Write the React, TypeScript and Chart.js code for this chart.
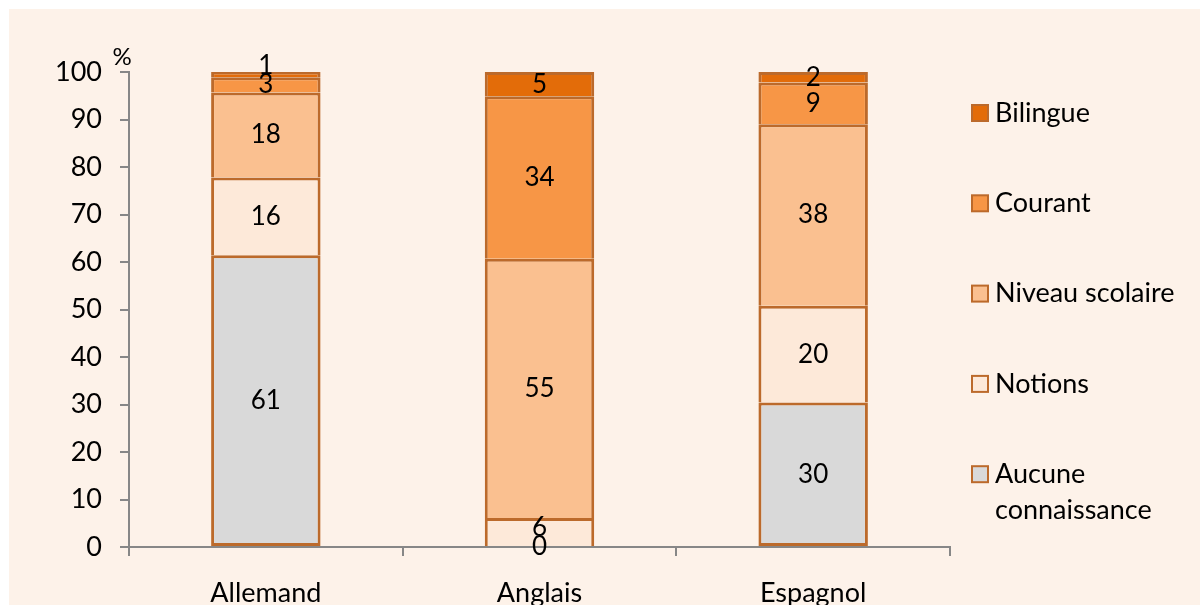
import React, { useEffect, useRef } from "react";
import { Chart, registerables } from "chart.js";

Chart.register(...registerables);

const categories = ["Allemand", "Anglais", "Espagnol"];
const seriesNames = ["Aucune connaissance", "Notions", "Niveau scolaire", "Courant", "Bilingue"];
const aucune = [61.4, 0, 30.4];
const notions = [16.4, 6.1, 20.4];
const niveau = [17.9, 54.6, 38.2];
const courant = [3.2, 34.2, 8.8];
const bilingue = [1.1, 5.1, 2.2];
const yTickValues = [0, 10, 20, 30, 40, 50, 60, 70, 80, 90, 100];
const legendLines = [["Aucune", "connaissance"], ["Notions"], ["Niveau scolaire"], ["Courant"], ["Bilingue"]];

const fills = ["#D9D9D9", "#FDE9D9", "#FAC090", "#F79646", "#E36C09"];
const BORDER = "#BC6A2B";
const FONT = "Lato";
const BG = "#FDF2E9";

const overlayPlugin = {
  id: "overlay",
  afterDatasetsDraw(chart: any) {
    const ctx = chart.ctx;
    const area = chart.chartArea;
    ctx.save();
    // data labels (stacked, bottom to top, avoiding overlaps)
    ctx.fillStyle = "#000";
    ctx.font = `26px ${FONT}`;
    ctx.textAlign = "center";
    ctx.textBaseline = "middle";
    const n = chart.data.labels.length;
    for (let i = 0; i < n; i++) {
      let prevY: number | null = null;
      chart.data.datasets.forEach((ds: any, di: number) => {
        const bar: any = chart.getDatasetMeta(di).data[i];
        const v = ds.data[i];
        let y = (bar.y + bar.base) / 2;
        if (prevY !== null && prevY - y < 19) y = prevY - 19;
        ctx.fillText(String(Math.round(v)), bar.x, y);
        prevY = y;
      });
    }
    // axis unit
    ctx.font = `24px ${FONT}`;
    ctx.fillText("%", area.left - 7, area.top - 15);
    // legend
    const boxLeft = area.right + 22;
    const textX = area.right + 45;
    const startY = 104;
    const step = 90.3;
    ctx.textAlign = "left";
    ctx.font = `27px ${FONT}`;
    for (let k = 0; k < seriesNames.length; k++) {
      const idx = seriesNames.length - 1 - k;
      const cy = startY + k * step;
      ctx.fillStyle = fills[idx];
      ctx.fillRect(boxLeft, cy - 8, 16, 16);
      ctx.strokeStyle = BORDER;
      ctx.lineWidth = 2;
      ctx.strokeRect(boxLeft, cy - 8, 16, 16);
      ctx.fillStyle = "#000";
      legendLines[idx].forEach((line, li) => {
        ctx.fillText(line, textX, cy + li * 36);
      });
    }
    ctx.restore();
  },
};

export default function App() {
  const ref = useRef<HTMLCanvasElement | null>(null);
  useEffect(() => {
    if (!ref.current) return;
    const series = [aucune, notions, niveau, courant, bilingue];
    const chart = new Chart(ref.current, {
      type: "bar",
      data: {
        labels: categories,
        datasets: series.map((d, i) => ({
          label: seriesNames[i],
          data: d,
          backgroundColor: fills[i],
          borderColor: BORDER,
          borderWidth: { top: 3, left: 3, right: 3, bottom: i === 0 ? 3 : 0 },
          borderSkipped: false,
          barPercentage: 0.4,
          categoryPercentage: 1,
        })),
      },
      options: {
        responsive: false,
        animation: false,
        layout: { padding: { left: 0, right: 250, top: 63, bottom: 0 } },
        plugins: { legend: { display: false }, tooltip: { enabled: false } },
        scales: {
          x: {
            stacked: true,
            grid: { display: true, drawOnChartArea: false, color: "#878787", tickLength: 9, lineWidth: 2 },
            border: { color: "#878787", width: 2 },
            ticks: { color: "#000", font: { family: FONT, size: 27 }, padding: 21 },
            afterFit: (s: any) => { s.height = 58; },
          },
          y: {
            stacked: true,
            min: 0,
            max: 100,
            afterBuildTicks: (s: any) => { s.ticks = yTickValues.map((v) => ({ value: v })); },
            grid: { display: true, drawOnChartArea: false, color: "#878787", tickLength: 9, lineWidth: 2 },
            border: { color: "#878787", width: 2 },
            ticks: { color: "#000", font: { family: FONT, size: 27 }, padding: 18 },
            afterFit: (s: any) => { s.width = 120; },
          },
        },
      },
      plugins: [overlayPlugin],
    } as any);
    return () => chart.destroy();
  }, []);
  return (
    <div style={{ position: "fixed", left: 9, top: 9, width: 1191, height: 596, background: BG }}>
      <canvas ref={ref} width={1191} height={596} style={{ display: "block" }} />
    </div>
  );
}
